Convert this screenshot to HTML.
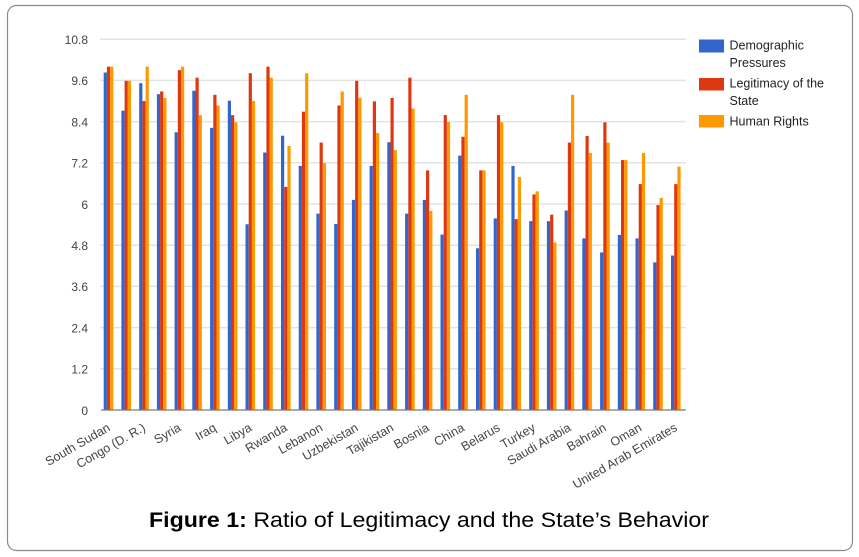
<!DOCTYPE html>
<html>
<head>
<meta charset="utf-8">
<style>
  html, body { margin: 0; padding: 0; background: #ffffff; }
  body { width: 859px; height: 557px; overflow: hidden; }
  svg { display: block; }
  text { font-family: "Liberation Sans", Arial, sans-serif; }
</style>
</head>
<body>
<svg width="859" height="557" viewBox="0 0 859 557" xmlns="http://www.w3.org/2000/svg">
  <rect x="0" y="0" width="859" height="557" fill="#ffffff"/>
  <rect x="7.5" y="5.5" width="845" height="545" rx="9" ry="9" fill="#ffffff" stroke="#8a8a8a" stroke-width="1.2"/>

  <!-- gridlines -->
  <g stroke="#e3e3e3" stroke-width="1.5">
    <line x1="100" y1="39.2" x2="686" y2="39.2"/>
    <line x1="100" y1="80.4" x2="686" y2="80.4"/>
    <line x1="100" y1="121.6" x2="686" y2="121.6"/>
    <line x1="100" y1="162.8" x2="686" y2="162.8"/>
    <line x1="100" y1="204.0" x2="686" y2="204.0"/>
    <line x1="100" y1="245.2" x2="686" y2="245.2"/>
    <line x1="100" y1="286.4" x2="686" y2="286.4"/>
    <line x1="100" y1="327.6" x2="686" y2="327.6"/>
    <line x1="100" y1="368.8" x2="686" y2="368.8"/>
  </g>

  <!-- y axis labels -->
  <g font-size="12" fill="#444" text-anchor="end">
    <text x="88" y="44">10.8</text>
    <text x="88" y="85.2">9.6</text>
    <text x="88" y="126.4">8.4</text>
    <text x="88" y="167.6">7.2</text>
    <text x="88" y="208.8">6</text>
    <text x="88" y="250">4.8</text>
    <text x="88" y="291.2">3.6</text>
    <text x="88" y="332.4">2.4</text>
    <text x="88" y="373.6">1.2</text>
    <text x="88" y="414.8">0</text>
  </g>

  <!-- bars -->
  <g transform="matrix(1 0 0 -34.33 0 410)">
    <g fill="#3366cc">
      <rect x="103.7" y="0" width="3.2" height="9.83"/>
      <rect x="121.4" y="0" width="3.2" height="8.72"/>
      <rect x="139.2" y="0" width="3.2" height="9.52"/>
      <rect x="156.9" y="0" width="3.2" height="9.2"/>
      <rect x="174.6" y="0" width="3.2" height="8.09"/>
      <rect x="192.3" y="0" width="3.2" height="9.3"/>
      <rect x="210.1" y="0" width="3.2" height="8.22"/>
      <rect x="227.8" y="0" width="3.2" height="9.01"/>
      <rect x="245.5" y="0" width="3.2" height="5.41"/>
      <rect x="263.2" y="0" width="3.2" height="7.5"/>
      <rect x="281.0" y="0" width="3.2" height="7.99"/>
      <rect x="298.7" y="0" width="3.2" height="7.11"/>
      <rect x="316.4" y="0" width="3.2" height="5.72"/>
      <rect x="334.2" y="0" width="3.2" height="5.42"/>
      <rect x="351.9" y="0" width="3.2" height="6.12"/>
      <rect x="369.6" y="0" width="3.2" height="7.11"/>
      <rect x="387.3" y="0" width="3.2" height="7.8"/>
      <rect x="405.1" y="0" width="3.2" height="5.72"/>
      <rect x="422.8" y="0" width="3.2" height="6.12"/>
      <rect x="440.5" y="0" width="3.2" height="5.11"/>
      <rect x="458.2" y="0" width="3.2" height="7.41"/>
      <rect x="476.0" y="0" width="3.2" height="4.71"/>
      <rect x="493.7" y="0" width="3.2" height="5.58"/>
      <rect x="511.4" y="0" width="3.2" height="7.11"/>
      <rect x="529.2" y="0" width="3.2" height="5.5"/>
      <rect x="546.9" y="0" width="3.2" height="5.5"/>
      <rect x="564.6" y="0" width="3.2" height="5.81"/>
      <rect x="582.3" y="0" width="3.2" height="5.0"/>
      <rect x="600.1" y="0" width="3.2" height="4.59"/>
      <rect x="617.8" y="0" width="3.2" height="5.1"/>
      <rect x="635.5" y="0" width="3.2" height="5.0"/>
      <rect x="653.2" y="0" width="3.2" height="4.3"/>
      <rect x="671.0" y="0" width="3.2" height="4.5"/>
    </g>
    <g fill="#dc3912">
      <rect x="106.9" y="0" width="3.2" height="10.0"/>
      <rect x="124.6" y="0" width="3.2" height="9.59"/>
      <rect x="142.4" y="0" width="3.2" height="9.0"/>
      <rect x="160.1" y="0" width="3.2" height="9.28"/>
      <rect x="177.8" y="0" width="3.2" height="9.9"/>
      <rect x="195.5" y="0" width="3.2" height="9.68"/>
      <rect x="213.3" y="0" width="3.2" height="9.18"/>
      <rect x="231.0" y="0" width="3.2" height="8.59"/>
      <rect x="248.7" y="0" width="3.2" height="9.81"/>
      <rect x="266.4" y="0" width="3.2" height="10.0"/>
      <rect x="284.2" y="0" width="3.2" height="6.5"/>
      <rect x="301.9" y="0" width="3.2" height="8.69"/>
      <rect x="319.6" y="0" width="3.2" height="7.79"/>
      <rect x="337.4" y="0" width="3.2" height="8.87"/>
      <rect x="355.1" y="0" width="3.2" height="9.59"/>
      <rect x="372.8" y="0" width="3.2" height="8.99"/>
      <rect x="390.5" y="0" width="3.2" height="9.09"/>
      <rect x="408.3" y="0" width="3.2" height="9.68"/>
      <rect x="426.0" y="0" width="3.2" height="6.98"/>
      <rect x="443.7" y="0" width="3.2" height="8.59"/>
      <rect x="461.4" y="0" width="3.2" height="7.96"/>
      <rect x="479.2" y="0" width="3.2" height="6.98"/>
      <rect x="496.9" y="0" width="3.2" height="8.59"/>
      <rect x="514.6" y="0" width="3.2" height="5.56"/>
      <rect x="532.4" y="0" width="3.2" height="6.28"/>
      <rect x="550.1" y="0" width="3.2" height="5.69"/>
      <rect x="567.8" y="0" width="3.2" height="7.79"/>
      <rect x="585.5" y="0" width="3.2" height="7.98"/>
      <rect x="603.3" y="0" width="3.2" height="8.38"/>
      <rect x="621.0" y="0" width="3.2" height="7.28"/>
      <rect x="638.7" y="0" width="3.2" height="6.58"/>
      <rect x="656.4" y="0" width="3.2" height="5.97"/>
      <rect x="674.2" y="0" width="3.2" height="6.58"/>
    </g>
    <g fill="#ff9900">
      <rect x="110.1" y="0" width="3.2" height="10.0"/>
      <rect x="127.8" y="0" width="3.2" height="9.59"/>
      <rect x="145.6" y="0" width="3.2" height="10.0"/>
      <rect x="163.3" y="0" width="3.2" height="9.09"/>
      <rect x="181.0" y="0" width="3.2" height="10.0"/>
      <rect x="198.7" y="0" width="3.2" height="8.59"/>
      <rect x="216.5" y="0" width="3.2" height="8.87"/>
      <rect x="234.2" y="0" width="3.2" height="8.38"/>
      <rect x="251.9" y="0" width="3.2" height="9.0"/>
      <rect x="269.6" y="0" width="3.2" height="9.68"/>
      <rect x="287.4" y="0" width="3.2" height="7.69"/>
      <rect x="305.1" y="0" width="3.2" height="9.81"/>
      <rect x="322.8" y="0" width="3.2" height="7.19"/>
      <rect x="340.6" y="0" width="3.2" height="9.28"/>
      <rect x="358.3" y="0" width="3.2" height="9.09"/>
      <rect x="376.0" y="0" width="3.2" height="8.07"/>
      <rect x="393.7" y="0" width="3.2" height="7.57"/>
      <rect x="411.5" y="0" width="3.2" height="8.78"/>
      <rect x="429.2" y="0" width="3.2" height="5.8"/>
      <rect x="446.9" y="0" width="3.2" height="8.39"/>
      <rect x="464.6" y="0" width="3.2" height="9.18"/>
      <rect x="482.4" y="0" width="3.2" height="6.98"/>
      <rect x="500.1" y="0" width="3.2" height="8.38"/>
      <rect x="517.8" y="0" width="3.2" height="6.79"/>
      <rect x="535.6" y="0" width="3.2" height="6.37"/>
      <rect x="553.3" y="0" width="3.2" height="4.88"/>
      <rect x="571.0" y="0" width="3.2" height="9.18"/>
      <rect x="588.7" y="0" width="3.2" height="7.49"/>
      <rect x="606.5" y="0" width="3.2" height="7.79"/>
      <rect x="624.2" y="0" width="3.2" height="7.28"/>
      <rect x="641.9" y="0" width="3.2" height="7.49"/>
      <rect x="659.6" y="0" width="3.2" height="6.18"/>
      <rect x="677.4" y="0" width="3.2" height="7.09"/>
    </g>
  </g>

  <!-- baseline -->
  <line x1="101" y1="410" x2="686" y2="410" stroke="#7a7a7a" stroke-width="1.3"/>

  <!-- x axis labels -->
  <g font-size="12.5" fill="#444" text-anchor="end">
    <text transform="translate(111,430) rotate(-30)">South Sudan</text>
    <text transform="translate(146.3,430) rotate(-30)">Congo (D. R.)</text>
    <text transform="translate(181.8,430) rotate(-30)">Syria</text>
    <text transform="translate(217.2,430) rotate(-30)">Iraq</text>
    <text transform="translate(252.7,430) rotate(-30)">Libya</text>
    <text transform="translate(288.1,430) rotate(-30)">Rwanda</text>
    <text transform="translate(323.6,430) rotate(-30)">Lebanon</text>
    <text transform="translate(359.0,430) rotate(-30)">Uzbekistan</text>
    <text transform="translate(394.5,430) rotate(-30)">Tajikistan</text>
    <text transform="translate(430.0,430) rotate(-30)">Bosnia</text>
    <text transform="translate(465.4,430) rotate(-30)">China</text>
    <text transform="translate(500.9,430) rotate(-30)">Belarus</text>
    <text transform="translate(536.3,430) rotate(-30)">Turkey</text>
    <text transform="translate(571.8,430) rotate(-30)">Saudi Arabia</text>
    <text transform="translate(607.2,430) rotate(-30)">Bahrain</text>
    <text transform="translate(642.7,430) rotate(-30)">Oman</text>
    <text transform="translate(678.1,430) rotate(-30)">United Arab Emirates</text>
  </g>

  <!-- legend -->
  <rect x="699" y="39.5" width="25" height="13" fill="#3366cc"/>
  <rect x="699" y="78" width="25" height="12.5" fill="#dc3912"/>
  <rect x="699" y="115" width="25" height="12.5" fill="#ff9900"/>
  <g font-size="12.5" fill="#222">
    <text x="729.5" y="49.5">Demographic</text>
    <text x="729.5" y="67">Pressures</text>
    <text x="729.5" y="87.5">Legitimacy of the</text>
    <text x="729.5" y="105">State</text>
    <text x="729.5" y="125.3">Human Rights</text>
  </g>

  <!-- caption -->
  <text x="149" y="527" font-size="21" fill="#000" textLength="560" lengthAdjust="spacingAndGlyphs"><tspan font-weight="bold">Figure 1:</tspan> Ratio of Legitimacy and the State’s Behavior</text>
</svg>
</body>
</html>
